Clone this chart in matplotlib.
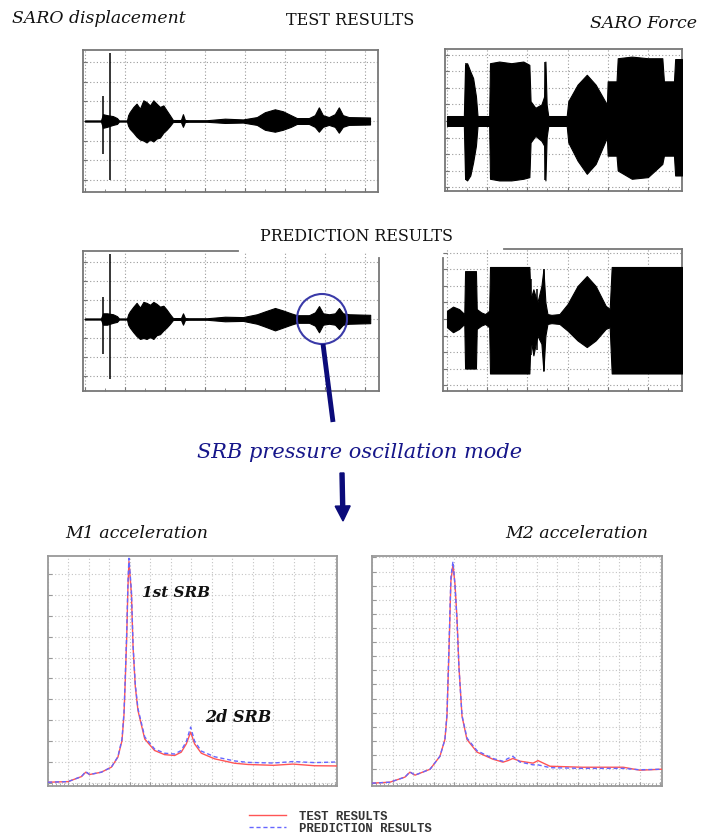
"""
SARO displacement / force time histories (test vs prediction) and the
M1 / M2 acceleration spectra around the SRB pressure oscillation mode
"""

### Import modules
import numpy as np
import matplotlib.pyplot as plt
from matplotlib.patches import Ellipse
from matplotlib.ticker import MultipleLocator, NullFormatter

### Time histories: envelope of the oscillating signal
disp_test_t = [0.0, 0.40, 0.45, 0.55, 0.70, 0.80, 0.85, 1.05, 1.08, 1.12,
               1.21, 1.29, 1.375, 1.46, 1.54, 1.625, 1.71, 1.79, 1.875, 1.96,
               2.04, 2.125, 2.20, 2.40, 2.45, 2.50, 2.60, 3.05, 3.50, 3.95,
               4.30, 4.50, 4.75, 4.95, 5.15, 5.30, 5.60, 5.75, 5.85, 5.95,
               6.10, 6.25, 6.35, 6.45, 6.60, 7.13]
disp_test_up = [0.03, 0.03, 0.35, 0.30, 0.25, 0.15, 0.03, 0.03, 0.30, 0.46,
                0.72, 0.89, 0.63, 1.06, 0.97, 0.80, 1.06, 0.89, 0.72, 0.80,
                0.55, 0.29, 0.05, 0.05, 0.35, 0.05, 0.04, 0.04, 0.12, 0.08,
                0.20, 0.45, 0.60, 0.50, 0.30, 0.15, 0.15, 0.30, 0.70, 0.30,
                0.20, 0.35, 0.70, 0.30, 0.20, 0.18]
disp_test_lo = [-0.03, -0.03, -0.35, -0.30, -0.20, -0.15, -0.03, -0.03, -0.25, -0.40,
                -0.60, -0.80, -0.95, -1.00, -1.10, -0.95, -1.05, -0.90, -0.85, -0.60,
                -0.45, -0.25, -0.05, -0.05, -0.30, -0.05, -0.04, -0.04, -0.10, -0.08,
                -0.20, -0.45, -0.55, -0.45, -0.30, -0.15, -0.15, -0.30, -0.55, -0.30,
                -0.20, -0.30, -0.60, -0.30, -0.20, -0.18]
disp_test_spk_t = [0.45, 0.625]
disp_test_spk_hi = [1.3, 3.5]
disp_test_spk_lo = [-1.7, -3.0]

disp_pred_t = disp_test_t
disp_pred_up = [0.03, 0.03, 0.30, 0.30, 0.25, 0.15, 0.03, 0.03, 0.25, 0.40,
                0.65, 0.85, 0.60, 0.90, 0.85, 0.75, 0.90, 0.80, 0.65, 0.70,
                0.50, 0.25, 0.05, 0.05, 0.30, 0.05, 0.04, 0.04, 0.12, 0.10,
                0.25, 0.40, 0.58, 0.45, 0.30, 0.20, 0.20, 0.35, 0.68, 0.30,
                0.25, 0.30, 0.58, 0.30, 0.25, 0.22]
disp_pred_lo = [-0.03, -0.03, -0.30, -0.30, -0.20, -0.15, -0.03, -0.03, -0.30, -0.45,
                -0.70, -0.90, -1.05, -1.00, -1.05, -0.95, -1.05, -0.85, -0.80, -0.60,
                -0.45, -0.25, -0.05, -0.05, -0.30, -0.05, -0.04, -0.04, -0.12, -0.10,
                -0.25, -0.40, -0.60, -0.45, -0.30, -0.20, -0.20, -0.35, -0.70, -0.30,
                -0.25, -0.30, -0.53, -0.30, -0.25, -0.22]
disp_pred_spk_t = [0.45, 0.625]
disp_pred_spk_hi = [1.15, 3.4]
disp_pred_spk_lo = [-1.85, -3.15]

force_test_t = [0.0, 0.42, 0.45, 0.50, 0.58, 0.65, 0.72, 0.76, 1.05, 1.07,
                1.3, 1.6, 1.9, 2.05, 2.08, 2.2, 2.35, 2.42, 2.45, 2.48,
                2.52, 2.98, 3.02, 3.25, 3.48, 3.7, 3.98, 4.0, 4.05, 4.22,
                4.25, 4.6, 5.0, 5.36, 5.40, 5.65, 5.68, 5.85]
force_test_up = [0.3, 0.3, 3.4, 3.5, 3.0, 2.6, 1.5, 0.3, 0.3, 3.5,
                 3.6, 3.5, 3.6, 3.4, 1.2, 0.8, 1.0, 1.5, 3.6, 1.0,
                 0.3, 0.3, 1.2, 2.2, 2.8, 2.2, 1.0, 2.4, 2.4, 2.4,
                 3.8, 3.9, 3.8, 3.8, 2.4, 2.4, 3.75, 3.75]
force_test_lo = [-0.3, -0.3, -3.5, -3.6, -3.3, -2.5, -1.5, -0.3, -0.3, -3.5,
                 -3.6, -3.6, -3.5, -3.4, -1.3, -0.9, -1.2, -1.5, -3.6, -1.0,
                 -0.3, -0.3, -1.3, -2.4, -3.2, -2.6, -1.0, -2.1, -2.1, -2.1,
                 -3.0, -3.5, -3.4, -2.6, -2.1, -2.1, -3.3, -3.3]
force_test_spk_t = [0.47, 2.45]
force_test_spk_hi = [3.5, 3.6]
force_test_spk_lo = [-3.6, -3.6]

force_pred_t = [0.0, 0.15, 0.3, 0.43, 0.45, 0.72, 0.74, 0.85, 0.95, 1.05,
                1.07, 2.05, 2.08, 2.15, 2.25, 2.35, 2.40, 2.45, 2.5, 2.6,
                2.8, 3.0, 3.25, 3.48, 3.7, 3.95, 4.05, 4.1, 5.85]
force_pred_up = [0.5, 0.75, 0.6, 0.3, 2.9, 2.9, 0.6, 0.4, 0.3, 0.5,
                 3.15, 3.15, 1.2, 1.8, 1.0, 2.0, 3.0, 1.0, 0.3, 0.25,
                 0.3, 0.9, 2.0, 2.6, 2.0, 0.8, 0.6, 3.15, 3.15]
force_pred_lo = [-0.5, -0.8, -0.6, -0.3, -3.0, -3.0, -0.6, -0.4, -0.3, -0.5,
                 -3.3, -3.3, -1.2, -2.2, -1.0, -1.5, -3.15, -1.0, -0.3, -0.25,
                 -0.3, -0.7, -1.3, -1.7, -1.3, -0.6, -0.5, -3.3, -3.3]
force_pred_spk_t = [2.1, 2.25, 2.42]
force_pred_spk_hi = [2.4, 1.8, 3.0]
force_pred_spk_lo = [-2.2, -1.9, -3.15]

### Acceleration spectra
m1_freq = [0.0, 0.98, 1.63, 1.84, 2.03, 2.6, 3.09, 3.41, 3.61, 3.71,
           3.77, 3.84, 3.90, 3.95, 4.07, 4.15, 4.26, 4.39, 4.72, 5.2,
           5.69, 6.18, 6.5, 6.75, 6.96, 7.15, 7.48, 8.13, 9.1, 9.76,
           11.0, 11.95, 13.0, 14.1]
m1_test = [0.03, 0.06, 0.3, 0.51, 0.4, 0.51, 0.75, 1.23, 2.02, 3.3,
           4.9, 6.97, 9.36, 10.6, 9.04, 6.5, 4.6, 3.46, 2.1, 1.55,
           1.35, 1.31, 1.47, 1.87, 2.43, 1.87, 1.42, 1.15, 0.94, 0.88,
           0.84, 0.9, 0.82, 0.81]
m1_pred = [0.03, 0.06, 0.3, 0.54, 0.4, 0.51, 0.75, 1.25, 2.1, 3.4,
           5.1, 7.2, 9.6, 10.75, 9.2, 6.6, 4.7, 3.55, 2.2, 1.62,
           1.42, 1.38, 1.55, 1.98, 2.67, 2.0, 1.52, 1.25, 1.05, 0.98,
           0.95, 1.02, 0.97, 1.0]

m2_freq = [0.0, 0.87, 1.6, 1.84, 2.09, 2.82, 3.30, 3.54, 3.64, 3.74,
           3.83, 3.93, 4.03, 4.13, 4.22, 4.37, 4.61, 5.10, 5.87, 6.36,
           6.6, 6.84, 7.18, 7.82, 8.06, 8.64, 10.2, 12.2, 13.0, 14.1]
m2_test = [0.0, 0.07, 0.43, 0.78, 0.57, 0.99, 1.91, 3.1, 4.75, 9.5,
           14.3, 15.5, 14.1, 11.6, 8.3, 4.75, 3.1, 2.2, 1.7, 1.49,
           1.6, 1.75, 1.56, 1.42, 1.6, 1.2, 1.13, 1.13, 0.92, 0.99]
m2_pred = [0.0, 0.07, 0.43, 0.8, 0.57, 0.99, 1.91, 3.1, 4.9, 9.8,
           14.6, 15.7, 14.0, 11.4, 8.2, 4.8, 3.2, 2.3, 1.75, 1.55,
           1.75, 1.9, 1.5, 1.3, 1.3, 1.1, 1.05, 1.05, 0.95, 0.99]

###############################################################################
### Plot figure
W, H = 714, 837
fig = plt.figure(figsize=(W/100., H/100.), dpi=100)
fig.patch.set_facecolor('white')

def box(x0, y0, x1, y1):
    # pixel box (top-left origin) -> figure fraction
    return [x0/W, 1 - y1/H, (x1 - x0)/W, (y1 - y0)/H]

def style_axes(ax, xlim, ylim, xminor, gridc, framec):
    ax.set_xlim(xlim)
    ax.set_ylim(ylim)
    ax.xaxis.set_major_locator(MultipleLocator(1))
    ax.yaxis.set_major_locator(MultipleLocator(1))
    ax.xaxis.set_minor_locator(MultipleLocator(xminor))
    ax.xaxis.set_major_formatter(NullFormatter())
    ax.yaxis.set_major_formatter(NullFormatter())
    ax.tick_params(which='both', direction='in', color=framec,
                   labelbottom=False, labelleft=False)
    ax.tick_params(which='major', length=3, width=0.8)
    ax.tick_params(which='minor', length=2, width=0.6)
    ax.grid(True, which='major', color=gridc, linestyle=(0, (1, 2)),
            linewidth=0.8)
    ax.set_axisbelow(True)
    for sp in ax.spines.values():
        sp.set_color(framec)
        sp.set_linewidth(1.3)

def signal(ax, t, up, lo, st, shi, slo):
    ax.fill_between(t, lo, up, color='black', linewidth=0.8, zorder=3)
    ax.vlines(st, slo, shi, color='black', linewidth=1.1, zorder=3)

### Time histories
ax1 = fig.add_axes(box(83, 51, 378, 193))
style_axes(ax1, (-0.05, 7.33), (-3.64, 3.64), 0.5, '#9a9a9a', '#777777')
signal(ax1, disp_test_t, disp_test_up, disp_test_lo,
       disp_test_spk_t, disp_test_spk_hi, disp_test_spk_lo)

ax2 = fig.add_axes(box(445, 50, 682, 192))
style_axes(ax2, (-0.05, 5.85), (-4.24, 4.36), 0.5, '#9a9a9a', '#777777')
signal(ax2, force_test_t, force_test_up, force_test_lo,
       force_test_spk_t, force_test_spk_hi, force_test_spk_lo)

ax3 = fig.add_axes(box(83, 252, 379, 392))
style_axes(ax3, (-0.05, 7.35), (-3.79, 3.58), 0.5, '#9a9a9a', '#777777')
signal(ax3, disp_pred_t, disp_pred_up, disp_pred_lo,
       disp_pred_spk_t, disp_pred_spk_hi, disp_pred_spk_lo)
ax3.spines['top'].set_bounds(-0.05, 3.83)
ax3.spines['right'].set_bounds(-3.79, 3.2)

ax4 = fig.add_axes(box(443, 250, 682, 392))
style_axes(ax4, (-0.1, 5.85), (-4.36, 4.24), 0.5, '#9a9a9a', '#777777')
signal(ax4, force_pred_t, force_pred_up, force_pred_lo,
       force_pred_spk_t, force_pred_spk_hi, force_pred_spk_lo)
ax4.spines['top'].set_bounds(1.42, 5.85)
ax4.spines['left'].set_bounds(-4.36, 3.7)

### Acceleration spectra
red = '#ff5555'
blue = '#6666ff'
ax5 = fig.add_axes(box(48, 557, 337, 787))
style_axes(ax5, (0, 14.1), (-0.15, 10.86), 0.2, '#c4c4c4', '#999999')
lt, = ax5.plot(m1_freq, m1_test, color=red, linewidth=1.0, zorder=3)
lp, = ax5.plot(m1_freq, m1_pred, color=blue, linewidth=1.0,
               linestyle=(0, (3, 2)), zorder=4)

ax6 = fig.add_axes(box(372, 557, 662, 787))
style_axes(ax6, (0, 14.08), (-0.2, 16.1), 0.2, '#c4c4c4', '#999999')
ax6.plot(m2_freq, m2_test, color=red, linewidth=1.0, zorder=3)
ax6.plot(m2_freq, m2_pred, color=blue, linewidth=1.0,
         linestyle=(0, (3, 2)), zorder=4)

### Annotations on an overlay in pixel units
ov = fig.add_axes([0, 0, 1, 1], zorder=10)
ov.set_xlim(0, W)
ov.set_ylim(H, 0)
ov.axis('off')

ital = dict(family='DejaVu Serif', style='italic', color='#111111')
ov.text(12, 18, 'SARO displacement', fontsize=12.4, ha='left', va='center', **ital)
ov.text(350, 20, 'TEST RESULTS', fontsize=11.5, family='DejaVu Serif',
        ha='center', va='center', color='#111111')
ov.text(697, 23, 'SARO Force', fontsize=12.5, ha='right', va='center', **ital)
ov.text(356, 236, 'PREDICTION RESULTS', fontsize=11.4, family='DejaVu Serif',
        ha='center', va='center', color='#111111')
ov.text(65, 533, 'M1 acceleration', fontsize=12.5, ha='left', va='center', **ital)
ov.text(648, 533, 'M2 acceleration', fontsize=12.5, ha='right', va='center', **ital)
ov.text(142, 593, '1st SRB', fontsize=11, family='DejaVu Serif', style='italic',
        weight='bold', ha='left', va='center', color='#111111')
ov.text(205, 718, '2d SRB', fontsize=11.5, family='DejaVu Serif', style='italic',
        weight='bold', ha='left', va='center', color='#111111')
ov.text(360, 453, 'SRB pressure oscillation mode', fontsize=15,
        family='DejaVu Serif', style='italic', color='#16168a',
        ha='center', va='center')

navy = '#0b0b7a'
ov.add_patch(Ellipse((322, 320), 50, 50, fill=False, edgecolor='#3a3aa8',
                     linewidth=1.5))
ov.plot([323, 333], [345, 423], color=navy, linewidth=3.5,
        solid_capstyle='butt')
ov.arrow(342, 474, 1, 48, width=4, head_width=15, head_length=15,
         length_includes_head=True, color=navy)

### Legend
leg = fig.legend(handles=[lt, lp], labels=['TEST RESULTS', 'PREDICTION RESULTS'],
                 loc='upper left', bbox_to_anchor=(249/W, 1 - 811/H),
                 frameon=False, handlelength=3.0, handletextpad=1.1,
                 labelspacing=0.0, borderpad=0, borderaxespad=0,
                 prop=dict(family='Liberation Mono', weight='bold', size=8.8))
for text in leg.get_texts():
    text.set_color('#333333')

plt.savefig('out.png', dpi=100, facecolor='white')
